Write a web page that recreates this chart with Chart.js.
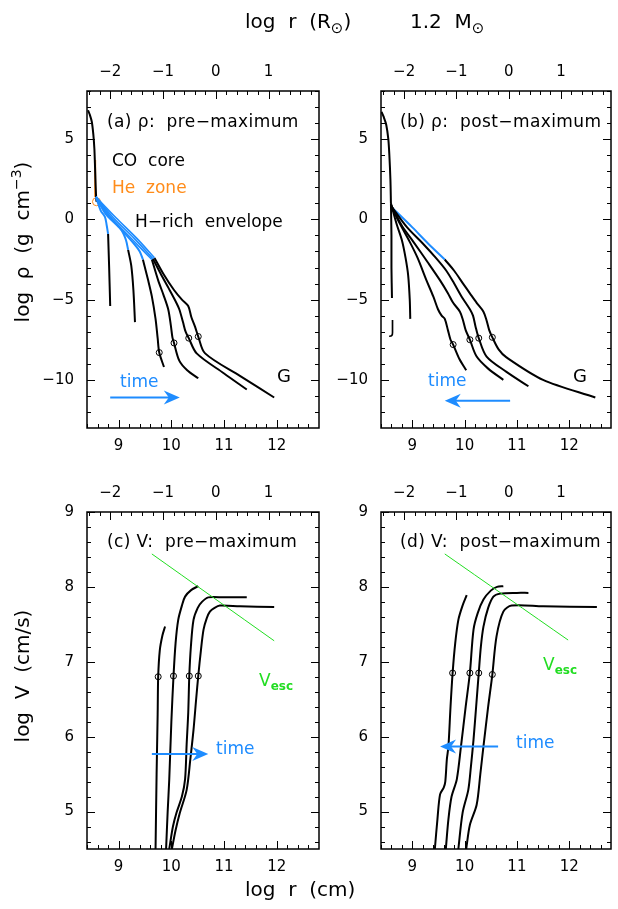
<!DOCTYPE html>
<html><head><meta charset="utf-8">
<script src="https://cdn.jsdelivr.net/npm/chart.js@4"></script>
<style>
body{margin:0;background:#fff;}
#wrap{position:relative;width:618px;height:909px;overflow:hidden;font-family:"DejaVu Sans",sans-serif;background:#fff;}
canvas{position:absolute;left:0;top:0;}
.t{position:absolute;white-space:pre;line-height:1;color:#000;font-size:17px;transform:translateY(-50%);}
.rot{position:absolute;white-space:pre;line-height:1;font-size:20px;transform:translate(-50%,-50%) rotate(-90deg);}
sub,sup{line-height:0;}
</style></head><body>
<div id="wrap">
<canvas id="ca" width="618" height="909"></canvas>
<canvas id="cb" width="618" height="909"></canvas>
<canvas id="cc" width="618" height="909"></canvas>
<canvas id="cd" width="618" height="909"></canvas>

<div class="t" style="left:245px;top:21px;font-size:20px;">log  r  (R<sub style="font-size:15px">⊙</sub>)</div>
<div class="t" style="left:410px;top:21px;font-size:20px;">1.2  M<sub style="font-size:15px">⊙</sub></div>
<div class="t" style="left:245px;top:889px;font-size:20px;">log  r  (cm)</div>
<div class="rot" style="left:22px;top:242px;">log  ρ  (g  cm<sup style="font-size:14px">−3</sup>)</div>
<div class="rot" style="left:22px;top:676px;">log  V  (cm/s)</div>

<div class="t" style="left:107px;top:121px;letter-spacing:0.4px;">(a) ρ:  pre−maximum</div>
<div class="t" style="left:112px;top:160px;">CO  core</div>
<div class="t" style="left:112px;top:187px;color:#ff8c1a;">He  zone</div>
<div class="t" style="left:135px;top:221px;">H−rich  envelope</div>
<div class="t" style="left:277px;top:376px;font-size:18px;">G</div>
<div class="t" style="left:120px;top:381px;color:#1e8cff;">time</div>

<div class="t" style="left:400px;top:121px;letter-spacing:0.4px;">(b) ρ:  post−maximum</div>
<div class="t" style="left:390px;top:327px;">J</div>
<div class="t" style="left:573px;top:376px;font-size:18px;">G</div>
<div class="t" style="left:428px;top:380px;color:#1e8cff;">time</div>

<div class="t" style="left:107px;top:541px;letter-spacing:0.4px;">(c) V:  pre−maximum</div>
<div class="t" style="left:216px;top:748px;color:#1e8cff;">time</div>
<div class="t" style="left:259px;top:680px;color:#22dd22;">V<sub style="font-size:12px;font-weight:bold;">esc</sub></div>

<div class="t" style="left:400px;top:541px;letter-spacing:0.4px;">(d) V:  post−maximum</div>
<div class="t" style="left:516px;top:742px;color:#1e8cff;">time</div>
<div class="t" style="left:543px;top:664px;color:#22dd22;">V<sub style="font-size:12px;font-weight:bold;">esc</sub></div>
</div>
<script>
// ---------- data ----------
const LOG_RSUN = 10.8426;
const xTicks = [9, 10, 11, 12];
const topTicks = [-2, -1, 0, 1];
const rhoTicks = [5, 0, -5, -10];
const velTicks = [9, 8, 7, 6, 5];

// (a) density, pre-maximum  [log r (cm), log rho]
const preCore = [[8.42,6.8],[8.45,6.55],[8.49,6.1],[8.52,5.3],[8.54,4.4],[8.55,3.5],[8.56,2.5],[8.57,1.6],[8.58,1.1]];
const heZone = [[8.555,3.7],[8.555,1.4]];
const heMark = [[8.58,1.1]];
const preBlue1 = [[8.57,1.4],[8.66,0.55],[8.74,0.15],[8.77,-0.3],[8.80,-0.9]];
const preRho1 = [[8.80,-0.9],[8.82,-3.0],[8.84,-5.4]];
const preBlue2 = [[8.57,1.4],[8.75,0.35],[8.9,-0.15],[9.06,-0.7],[9.14,-1.3],[9.18,-1.9]];
const preRho2 = [[9.18,-1.9],[9.24,-2.9],[9.28,-4.4],[9.31,-6.4]];
const preBlue3 = [[8.57,1.4],[8.8,0.25],[9.0,-0.45],[9.3,-1.55],[9.40,-2.0],[9.46,-2.5]];
const preRho3 = [[9.46,-2.5],[9.56,-3.8],[9.63,-4.8],[9.70,-6.2],[9.74,-7.4],[9.77,-8.3],[9.86,-9.2]];
const preBlue4 = [[8.57,1.4],[8.85,0.15],[9.2,-1.05],[9.45,-1.9],[9.63,-2.5]];
const preBlue5 = [[8.57,1.4],[8.9,0.1],[9.3,-1.2],[9.65,-2.45]];
const preBlue6 = [[8.57,1.4],[8.95,0.1],[9.35,-1.2],[9.68,-2.4]];
const preRho4 = [[9.63,-2.5],[9.75,-3.8],[9.85,-4.7],[9.94,-5.6],[9.99,-6.6],[10.02,-7.35],[10.05,-7.7],[10.15,-8.8],[10.3,-9.4],[10.51,-9.9]];
const preRho5 = [[9.65,-2.45],[9.8,-3.4],[9.95,-4.3],[10.08,-5.1],[10.15,-5.6],[10.22,-6.4],[10.27,-7.0],[10.33,-7.4],[10.48,-8.35],[11.0,-9.6],[11.43,-10.6]];
const preRho6 = [[9.68,-2.4],[9.85,-3.4],[10.05,-4.4],[10.2,-5.0],[10.32,-5.4],[10.38,-6.1],[10.45,-6.7],[10.51,-7.3],[10.64,-8.35],[11.3,-9.75],[11.95,-11.1]];
const preRhoMarks = [[9.77,-8.3],[10.05,-7.7],[10.33,-7.4],[10.51,-7.3]];

// (b) density, post-maximum
const postCore = [[8.41,6.7],[8.45,6.4],[8.5,5.9],[8.54,5.0],[8.56,4.0],[8.58,2.5],[8.59,1.0]];
const postRho1 = [[8.59,1.0],[8.6,-1.0],[8.6,-3.0],[8.61,-4.9]];
const postRho2 = [[8.59,1.0],[8.7,-0.3],[8.8,-1.3],[8.87,-2.4],[8.92,-3.5],[8.95,-5.0],[8.96,-6.2]];
const postRho3 = [[8.59,0.9],[8.75,-0.2],[8.95,-1.4],[9.1,-2.4],[9.27,-3.8],[9.4,-4.8],[9.49,-5.6],[9.56,-6.0],[9.62,-6.2],[9.68,-6.9],[9.73,-7.5],[9.78,-7.8],[9.9,-8.7],[10.03,-9.4]];
const postRho4 = [[8.59,0.9],[8.8,-0.4],[9.02,-1.4],[9.3,-2.7],[9.53,-3.8],[9.68,-4.6],[9.78,-5.2],[9.91,-5.75],[9.97,-6.3],[10.02,-6.9],[10.1,-7.5],[10.23,-8.55],[10.45,-9.3],[10.74,-10.0]];
const postRho5 = [[8.59,0.85],[8.9,-0.5],[9.2,-1.5],[9.45,-2.4],[9.65,-3.2],[9.8,-4.0],[9.94,-4.8],[10.1,-5.6],[10.16,-6.0],[10.21,-6.7],[10.27,-7.4],[10.42,-8.55],[10.8,-9.5],[11.22,-10.4]];
const postBlue6 = [[8.59,0.8],[9.0,-0.5],[9.3,-1.5],[9.62,-2.5]];
const postRho6 = [[9.62,-2.5],[9.8,-3.2],[9.97,-4.0],[10.12,-4.7],[10.23,-5.2],[10.36,-5.75],[10.42,-6.3],[10.47,-6.9],[10.53,-7.35],[10.65,-8.1],[10.8,-8.6],[11.5,-10.0],[12.5,-11.1]];
const postRhoMarks = [[9.78,-7.8],[10.1,-7.5],[10.27,-7.4],[10.53,-7.35]];

// (c) velocity, pre-maximum  [log r (cm), log V]
const preV1 = [[9.70,4.5],[9.72,5.5],[9.74,6.3],[9.75,6.8],[9.78,7.15],[9.83,7.35],[9.88,7.47]];
const preV2 = [[9.90,4.5],[9.93,5.0],[9.96,5.43],[10.0,6.2],[10.04,6.8],[10.08,7.25],[10.13,7.56],[10.2,7.75],[10.26,7.87],[10.38,7.96],[10.51,8.01]];
const preV3 = [[9.96,4.5],[10.03,4.8],[10.10,4.99],[10.2,5.2],[10.26,5.43],[10.29,5.9],[10.32,6.32],[10.34,6.81],[10.37,7.2],[10.42,7.56],[10.5,7.72],[10.58,7.80],[10.7,7.86],[11.0,7.86],[11.43,7.86]];
const preV4 = [[10.01,4.5],[10.08,4.75],[10.16,4.98],[10.29,5.29],[10.36,5.7],[10.42,6.09],[10.47,6.5],[10.51,6.81],[10.56,7.15],[10.61,7.43],[10.67,7.58],[10.73,7.67],[10.82,7.72],[10.92,7.75],[11.3,7.74],[11.95,7.73]];
const preVMarks = [[9.75,6.80],[10.04,6.81],[10.34,6.81],[10.51,6.81]];
const preVesc = [[9.63,8.44],[11.95,7.28]];

// (d) velocity, post-maximum
const postV1 = [[9.43,4.5],[9.48,4.9],[9.53,5.23],[9.6,5.32],[9.63,5.4],[9.66,5.7],[9.69,5.87],[9.73,6.4],[9.77,6.85],[9.82,7.25],[9.88,7.56],[9.96,7.75],[10.04,7.89]];
const postV2 = [[9.64,4.5],[9.69,4.9],[9.75,5.20],[9.85,5.43],[9.93,5.87],[10.02,6.4],[10.10,6.85],[10.17,7.43],[10.25,7.65],[10.36,7.83],[10.5,7.95],[10.62,8.0],[10.74,8.01]];
const postV3 = [[9.88,4.5],[9.96,4.98],[10.07,5.29],[10.12,5.6],[10.17,5.96],[10.22,6.4],[10.27,6.85],[10.31,7.2],[10.36,7.47],[10.45,7.72],[10.55,7.87],[10.68,7.91],[11.0,7.92],[11.22,7.92]];
const postV4 = [[10.03,4.5],[10.10,4.82],[10.23,5.09],[10.30,5.5],[10.36,5.87],[10.45,6.4],[10.53,6.83],[10.61,7.34],[10.74,7.67],[10.9,7.75],[11.5,7.74],[12.53,7.73]];
const postVMarks = [[9.77,6.85],[10.10,6.85],[10.27,6.85],[10.53,6.83]];
const postVesc = [[9.62,8.44],[11.98,7.29]];

// time arrows [from, to]
const arrowA = [[8.84,-11.1],[10.16,-11.1]];
const arrowB = [[10.87,-11.3],[9.62,-11.3]];
const arrowC = [[9.63,5.77],[10.70,5.77]];
const arrowD = [[10.64,5.87],[9.53,5.87]];

// ---------- drawing ----------
const W = 618, H = 909;
const BLACK = '#000', BLUE = '#1e8cff', ORANGE = '#ff8c1a', GREEN = '#22dd22';
const FONT = {family:'"DejaVu Sans", sans-serif', size:15};
const fmt = v => String(v).replace('-', '\u2212');
const pts = a => a.map(p => ({x:p[0], y:p[1]}));

function line(data, color, width){
  return {data: pts(data), showLine:true, borderColor:color, borderWidth:width||2,
          pointRadius:0, tension:0.3, fill:false};
}
function marks(data, color, r){
  return {data: pts(data), showLine:false, pointRadius:r||3, pointStyle:'circle',
          borderColor:color||BLACK, backgroundColor:'rgba(0,0,0,0)', borderWidth:1};
}

const frameTicks = {
  id:'frameTicks',
  afterDatasetsDraw(chart, args, o){
    const ctx = chart.ctx, a = chart.chartArea, s = chart.scales;
    ctx.save();
    ctx.strokeStyle = '#000';
    ctx.lineWidth = 1;
    const range = (min, max, step) => { const r=[]; for(let v=Math.ceil(min/step-1e-9)*step; v<=max+1e-9; v+=step) r.push(v); return r; };
    ctx.beginPath();
    const hxb = (scale, vals, len) => vals.forEach(v=>{
      const p = Math.round(scale.getPixelForValue(v))+0.5;
      if(p<a.left||p>a.right) return;
      ctx.moveTo(p, a.bottom); ctx.lineTo(p, a.bottom-len);
    });
    const hxt = (scale, vals, len) => vals.forEach(v=>{
      const p = Math.round(scale.getPixelForValue(v))+0.5;
      if(p<a.left||p>a.right) return;
      ctx.moveTo(p, a.top); ctx.lineTo(p, a.top+len);
    });
    const vy = (scale, vals, len) => vals.forEach(v=>{
      const p = Math.round(scale.getPixelForValue(v))+0.5;
      if(p<a.top||p>a.bottom) return;
      ctx.moveTo(a.left, p); ctx.lineTo(a.left+len, p);
      ctx.moveTo(a.right, p); ctx.lineTo(a.right-len, p);
    });
    hxb(s.x, range(s.x.min, s.x.max, 0.2), 4);
    hxb(s.x, o.xMajor, 8);
    hxt(s.xTop, range(s.xTop.min, s.xTop.max, 0.2), 4);
    hxt(s.xTop, o.topMajor, 8);
    vy(s.y, range(s.y.min, s.y.max, o.yMinor), 4);
    vy(s.y, range(s.y.min, s.y.max, o.yMajorStep), 8);
    ctx.stroke();
    ctx.lineWidth = 1.5;
    ctx.strokeRect(a.left, a.top, a.right-a.left, a.bottom-a.top);
    // time arrow
    const ar = o.arrow;
    if(ar){
      const x1 = s.x.getPixelForValue(ar[0][0]), y1 = s.y.getPixelForValue(ar[0][1]);
      const x2 = s.x.getPixelForValue(ar[1][0]), y2 = s.y.getPixelForValue(ar[1][1]);
      const dir = Math.sign(x2-x1);
      ctx.strokeStyle = BLUE; ctx.fillStyle = BLUE; ctx.lineWidth = 2;
      ctx.beginPath(); ctx.moveTo(x1, y1); ctx.lineTo(x2-dir*8, y2); ctx.stroke();
      ctx.beginPath();
      ctx.moveTo(x2, y2);
      ctx.lineTo(x2-dir*16, y2-7);
      ctx.lineTo(x2-dir*11, y2);
      ctx.lineTo(x2-dir*16, y2+7);
      ctx.closePath(); ctx.fill();
    }
    ctx.restore();
  }
};

function makePanel(id, area, yMin, yMax, yLabels, yMinor, yMajorStep, datasets, arrow){
  const tickCfg = () => ({
    color:'#000', font:FONT, padding:0, autoSkip:false, maxRotation:0,
    callback: v => fmt(v)
  });
  new Chart(document.getElementById(id), {
    type:'scatter',
    data:{datasets},
    options:{
      responsive:false, animation:false, devicePixelRatio:1,
      layout:{padding:0, autoPadding:false},
      plugins:{legend:{display:false}, tooltip:{enabled:false},
               frameTicks:{xMajor:xTicks, topMajor:topTicks, yMinor, yMajorStep, arrow}},
      scales:{
        x:{type:'linear', position:'bottom', min:8.4, max:12.8,
           grid:{display:false, drawTicks:false}, border:{display:false},
           ticks:Object.assign(tickCfg(), {padding:9}),
           afterBuildTicks: s => { s.ticks = xTicks.map(v=>({value:v})); },
           afterFit: s => { s.height = H - area.bottom; }},
        xTop:{type:'linear', position:'top', min:8.4-LOG_RSUN, max:12.8-LOG_RSUN,
           grid:{display:false, drawTicks:false}, border:{display:false},
           ticks:Object.assign(tickCfg(), {padding:10}),
           afterBuildTicks: s => { s.ticks = topTicks.map(v=>({value:v})); },
           afterFit: s => { s.height = area.top; }},
        y:{type:'linear', position:'left', min:yMin, max:yMax,
           grid:{display:false, drawTicks:false}, border:{display:false},
           ticks:Object.assign(tickCfg(), {padding:13}),
           afterBuildTicks: s => { s.ticks = yLabels.map(v=>({value:v})); },
           afterFit: s => { s.width = area.left; }},
        yR:{type:'linear', position:'right', min:yMin, max:yMax,
           grid:{display:false, drawTicks:false}, border:{display:false},
           ticks:{display:false},
           afterFit: s => { s.width = W - area.right; }}
      }
    },
    plugins:[frameTicks]
  });
}

makePanel('ca', {left:87, right:319, top:91, bottom:428}, -13, 8, rhoTicks, 1, 5, [
  line(preBlue1, BLUE), line(preBlue2, BLUE), line(preBlue3, BLUE),
  line(preBlue4, BLUE, 1.6), line(preBlue5, BLUE, 1.6), line(preBlue6, BLUE, 1.6),
  line(preRho1, BLACK), line(preRho2, BLACK), line(preRho3, BLACK),
  line(preRho4, BLACK), line(preRho5, BLACK), line(preRho6, BLACK),
  line(preCore, BLACK), line(heZone, ORANGE), marks(heMark, ORANGE, 4),
  marks(preRhoMarks, BLACK, 3)
], arrowA);

makePanel('cb', {left:381, right:611, top:91, bottom:428}, -13, 8, rhoTicks, 1, 5, [
  line(postRho1, BLACK), line(postRho2, BLACK), line(postRho3, BLACK),
  line(postRho4, BLACK), line(postRho5, BLACK), line(postRho6, BLACK),
  line(postBlue6, BLUE), line(postCore, BLACK),
  marks(postRhoMarks, BLACK, 3)
], arrowB);

makePanel('cc', {left:87, right:319, top:512, bottom:849}, 4.5, 9, velTicks, 0.2, 1, [
  line(preVesc, GREEN, 1),
  line(preV1, BLACK), line(preV2, BLACK), line(preV3, BLACK), line(preV4, BLACK),
  marks(preVMarks, BLACK, 3)
], arrowC);

makePanel('cd', {left:381, right:611, top:512, bottom:849}, 4.5, 9, velTicks, 0.2, 1, [
  line(postVesc, GREEN, 1),
  line(postV1, BLACK), line(postV2, BLACK), line(postV3, BLACK), line(postV4, BLACK),
  marks(postVMarks, BLACK, 3)
], arrowD);
</script>
</body></html>
